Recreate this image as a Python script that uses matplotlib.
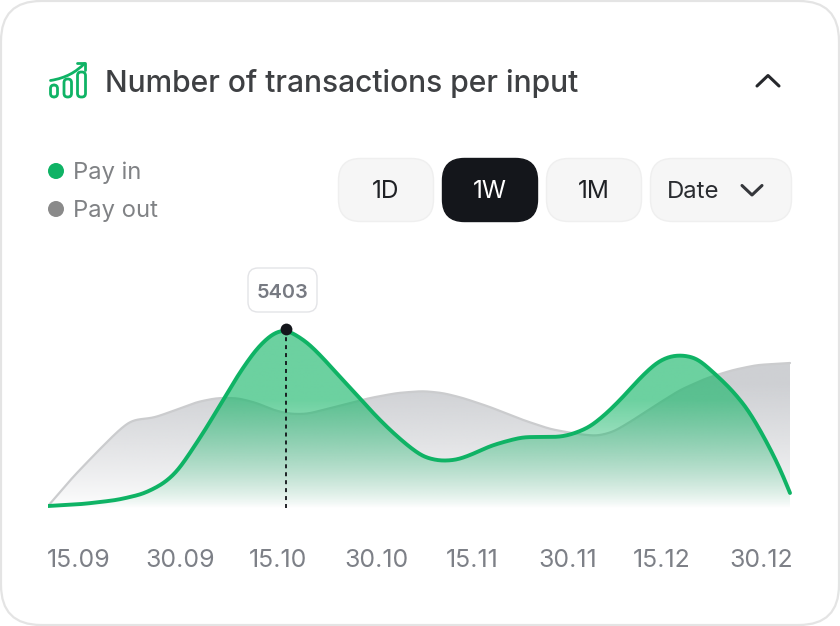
import numpy as np
import matplotlib
matplotlib.use("Agg")
import matplotlib.pyplot as plt
from matplotlib.patches import FancyBboxPatch, Circle, PathPatch
from matplotlib.path import Path
from matplotlib.colors import to_rgb

plt.rcParams['font.family'] = ['Inter', 'DejaVu Sans']

title = "Number of transactions per input"
series_names = ["Pay in", "Pay out"]
ranges = ["1D", "1W", "1M", "Date"]
highlight_value = 5403
tick_labels = ["15.09", "30.09", "15.10", "30.10", "15.11", "30.11", "15.12", "30.12"]
tick_pos = [79, 180, 278, 376, 472, 568, 662, 761]

pay_in_x = [48, 83, 117, 143, 163, 177, 190, 207, 223, 240, 257, 273, 286, 307, 323, 340, 357, 373, 390, 407,
            423, 440, 457, 473, 490, 507, 523, 550, 560, 573, 590, 607, 623, 640, 657, 670, 682, 697, 713, 730,
            747, 763, 780, 790]
pay_in = [60, 121, 241, 423, 724, 1086, 1660, 2445, 3259, 4104, 4829, 5282, 5403, 5010, 4527, 3954, 3410, 2867,
          2354, 1901, 1539, 1418, 1449, 1630, 1871, 2022, 2143, 2143, 2143, 2233, 2445, 2867, 3350, 3923, 4406,
          4587, 4618, 4527, 4104, 3622, 3018, 2203, 1207, 453]
pay_out_x = [48, 73, 97, 117, 130, 140, 153, 173, 197, 217, 237, 257, 273, 290, 307, 323, 350, 370, 397, 423,
             443, 463, 490, 523, 550, 577, 597, 613, 630, 653, 680, 707, 733, 757, 790]
pay_out = [60, 936, 1690, 2294, 2626, 2686, 2716, 2927, 3199, 3320, 3320, 3169, 2958, 2837, 2837, 2958, 3169,
           3320, 3471, 3531, 3471, 3320, 3048, 2656, 2384, 2233, 2173, 2294, 2595, 3048, 3561, 3923, 4165, 4316,
           4376]

GREEN = "#0fb365"
W, H = 840, 626


def smooth(x, y, sigma=6.0):
    """Smooth curve through the read points: piecewise line, then a small Gaussian kernel."""
    x, y = np.asarray(x, float), np.asarray(y, float)
    xs = np.arange(x[0], x[-1] + 0.25, 0.5)
    ys = np.interp(xs, x, y)
    half = int(4*sigma/0.5)
    k = np.exp(-0.5*(np.arange(-half, half + 1)*0.5/sigma)**2)
    k /= k.sum()
    left = 2*ys[0] - ys[half:0:-1]
    right = 2*ys[-1] - ys[-2:-half - 2:-1]
    return xs, np.convolve(np.r_[left, ys, right], k, mode="valid")


fig = plt.figure(figsize=(W/100, H/100), dpi=100, facecolor="white")
bg = fig.add_axes([0, 0, 1, 1])
bg.set_xlim(0, W)
bg.set_ylim(H, 0)
bg.axis("off")


def rbox(x0, y0, x1, y1, r, fc, ec, lw=1.2, ax=bg, z=1):
    p = FancyBboxPatch((x0 + r, y0 + r), x1 - x0 - 2*r, y1 - y0 - 2*r,
                       boxstyle=f"round,pad={r},rounding_size={r}", fc=fc, ec=ec, lw=lw, zorder=z)
    ax.add_patch(p)


rbox(1, 1, 839, 625, 40, "white", "#e4e4e4", 1.6)

# header icon
icon_lw = 2.0
for x0, x1, y0 in [(50.5, 57.5, 85), (64, 71.5, 79), (77.5, 85.5, 72)]:
    rbox(x0, y0, x1, 97, 3.6, "none", GREEN, icon_lw, z=3)
bg.add_patch(PathPatch(Path([(50.5, 80.5), (66, 78), (76, 72), (84.5, 63.5)],
                           [Path.MOVETO, Path.CURVE4, Path.CURVE4, Path.CURVE4]),
                       fc="none", ec=GREEN, lw=icon_lw, capstyle="round", zorder=3))
bg.plot([77, 85, 85], [63, 63, 70], color=GREEN, lw=icon_lw, solid_capstyle="round", solid_joinstyle="round", zorder=3)

bg.text(105, 83.5, title, fontsize=21.6, fontweight="medium", color="#3e4043", va="center", ha="left", zorder=3)
bg.plot([757, 768, 779], [86, 75.5, 86], color="#26282c", lw=2.2, solid_capstyle="round", solid_joinstyle="round", zorder=3)

# legend
for yy, name, col in zip([171, 209], series_names, [GREEN, "#8a8a8a"]):
    bg.add_patch(Circle((56, yy), 8, fc=col, ec="none", zorder=3))
    bg.text(73, yy + 2, name, fontsize=17.1, color="#808285", va="center", ha="left", zorder=3)

# range buttons
boxes = [(338, 434), (442, 538), (546, 642), (650, 792)]
for (x0, x1), lab in zip(boxes, ranges):
    active = lab == "1W"
    rbox(x0 + .5, 158.5, x1 - .5, 221.5, 22, "#14161b" if active else "#f6f6f6",
         "#14161b" if active else "#efefef", 1.0, z=2)
    if lab == "Date":
        bg.text(667, 192, lab, fontsize=17.2, color="#2a2c30", va="center", ha="left", zorder=3)
    else:
        bg.text((x0 + x1)/2, 192, lab, fontsize=17.6, color="white" if active else "#1f2125",
                va="center", ha="center", zorder=3)
bg.plot([742, 752, 762], [185.5, 195, 185.5], color="#35373b", lw=2.2, solid_capstyle="round", solid_joinstyle="round", zorder=3)

# chart axes: x is chart position, y is number of transactions
TOP, BOT = 280, 520
ax = fig.add_axes([48/W, 1 - BOT/H, 744/W, (BOT - TOP)/H])
ax.patch.set_alpha(0)
for s in ax.spines.values():
    s.set_visible(False)
y_lo, y_hi = -362, 6881
peak_i = int(np.argmax(pay_in))
peak_x = pay_in_x[peak_i]


def gradient_fill(xs, ys, rgb, a_top, y_top, knee=1.0, power=1.0, z=2):
    verts = np.r_[[(xs[0], 0)], np.c_[xs, ys], [(xs[-1], 0)], [(xs[0], 0)]]
    patch = PathPatch(Path(verts, closed=False), fc="none", ec="none", transform=ax.transData)
    ax.add_patch(patch)
    n = 256
    frac = np.linspace(0, 1, n)
    img = np.zeros((n, 2, 4))
    img[..., :3] = to_rgb(rgb)
    img[..., 3] = (a_top*np.minimum(frac/knee, 1)**power)[:, None]
    im = ax.imshow(img[::-1], extent=[xs[0], xs[-1], 0, y_top], aspect="auto", interpolation="bilinear", zorder=z)
    im.set_clip_path(patch)


ox, oy = smooth(pay_out_x, pay_out, sigma=5.0)
ix, iy = smooth(pay_in_x, pay_in, sigma=6.0)
gradient_fill(ox, oy, "#c6c8cc", 0.85, 4400, 0.85, 0.8, z=2)
ax.plot(ox, oy, color="#cbccce", lw=1.6, zorder=3, solid_capstyle="round")
gradient_fill(ix, iy, "#12b566", 0.62, 5403, 0.6, 0.9, z=4)
ax.plot(ix, iy, color=GREEN, lw=2.8, zorder=5, solid_capstyle="round")

ax.plot([peak_x, peak_x], [0, highlight_value], color="#111318", lw=1.3, dashes=(2.2, 2.2), zorder=6)
ax.plot([peak_x], [highlight_value], "o", color="#14161b", ms=8.5, mec="none", zorder=7)
ax.set_ylim(y_lo, y_hi)
ax.set_xlim(48, 792)
ax.set_yticks([])
ax.set_xticks(tick_pos, tick_labels)
ax.tick_params(axis="x", length=0, pad=21, labelsize=17.9, labelcolor="#7d8087")

# tooltip
rbox(248, 268, 317, 312, 10, "white", "#e3e4e7", 1.0, z=3)
bg.text(283, 292.5, str(highlight_value), fontsize=14.4, fontweight="semibold", color="#777a82",
        va="center", ha="center", zorder=4)

fig.savefig("out.png", dpi=100)
